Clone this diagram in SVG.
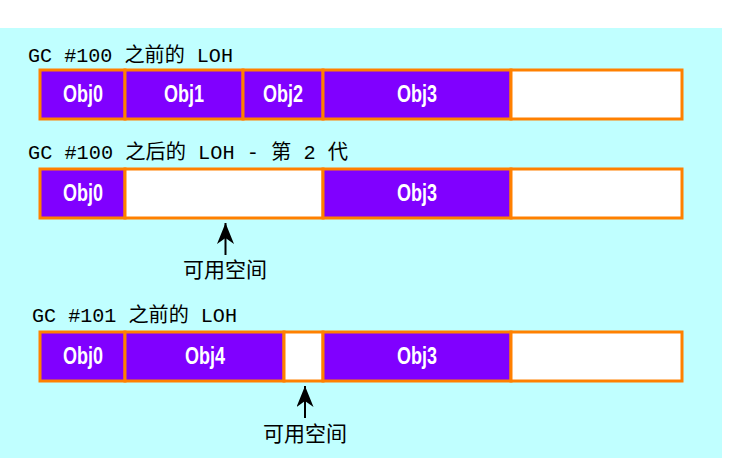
<svg xmlns="http://www.w3.org/2000/svg" width="750" height="458" viewBox="0 0 750 458">
<style>
.title{font-family:"Liberation Mono","Noto Sans CJK SC",monospace;font-size:20px;fill:#000}
.obj{fill:#8000FF;stroke:#FF8000;stroke-width:3}
.free{fill:#FFFFFF;stroke:#FF8000;stroke-width:3}
.lbl{font-family:"Liberation Sans",sans-serif;font-weight:bold;font-size:23px;fill:#FFFFFF;text-anchor:middle}
.note{font-family:"Noto Sans CJK SC",sans-serif;font-size:21px;fill:#000;text-anchor:middle}
.arrow{stroke:#000;stroke-width:2;fill:none}
</style>
<defs>
<marker id="ah" markerWidth="21" markerHeight="17" viewBox="0 0 21 17" refX="21" refY="8.5" orient="auto" markerUnits="userSpaceOnUse">
<polygon points="21,8.5 0,0 6,8.5 0,17" fill="#000"/>
</marker>
</defs>
<rect x="0" y="0" width="750" height="458" fill="#FFFFFF"/>
<rect x="0" y="28" width="722" height="430" fill="#C0FFFF"/>

<g id="title1"><text class="title" x="28" y="61.5" textLength="205" lengthAdjust="spacingAndGlyphs">GC #100 之前的 LOH</text></g>
<g id="bar1">
<g id="b1-obj0"><rect class="obj" x="40" y="70" width="85" height="49"/><text class="lbl" x="83" y="102" textLength="40" lengthAdjust="spacingAndGlyphs">Obj0</text></g>
<g id="b1-obj1"><rect class="obj" x="125" y="70" width="118" height="49"/><text class="lbl" x="184" y="102" textLength="40" lengthAdjust="spacingAndGlyphs">Obj1</text></g>
<g id="b1-obj2"><rect class="obj" x="243" y="70" width="80" height="49"/><text class="lbl" x="283" y="102" textLength="40" lengthAdjust="spacingAndGlyphs">Obj2</text></g>
<g id="b1-obj3"><rect class="obj" x="323" y="70" width="188" height="49"/><text class="lbl" x="417" y="102" textLength="40" lengthAdjust="spacingAndGlyphs">Obj3</text></g>
<g id="b1-free"><rect class="free" x="511" y="70" width="171" height="49"/></g>
</g>

<g id="title2"><text class="title" x="28" y="158.5" textLength="320" lengthAdjust="spacingAndGlyphs">GC #100 之后的 LOH - 第 2 代</text></g>
<g id="bar2">
<g id="b2-obj0"><rect class="obj" x="40" y="169" width="85" height="49"/><text class="lbl" x="83" y="201" textLength="40" lengthAdjust="spacingAndGlyphs">Obj0</text></g>
<g id="b2-free1"><rect class="free" x="125" y="169" width="198" height="49"/></g>
<g id="b2-obj3"><rect class="obj" x="323" y="169" width="188" height="49"/><text class="lbl" x="417" y="201" textLength="40" lengthAdjust="spacingAndGlyphs">Obj3</text></g>
<g id="b2-free2"><rect class="free" x="511" y="169" width="171" height="49"/></g>
</g>
<g id="note1"><text class="note" x="225" y="277">可用空间</text></g>

<g id="title3"><text class="title" x="32" y="322" textLength="205" lengthAdjust="spacingAndGlyphs">GC #101 之前的 LOH</text></g>
<g id="bar3">
<g id="b3-obj0"><rect class="obj" x="40" y="332" width="85" height="49"/><text class="lbl" x="83" y="364" textLength="40" lengthAdjust="spacingAndGlyphs">Obj0</text></g>
<g id="b3-obj4"><rect class="obj" x="125" y="332" width="159" height="49"/><text class="lbl" x="205" y="364" textLength="40" lengthAdjust="spacingAndGlyphs">Obj4</text></g>
<g id="b3-free1"><rect class="free" x="284" y="332" width="39" height="49"/></g>
<g id="b3-obj3"><rect class="obj" x="323" y="332" width="188" height="49"/><text class="lbl" x="417" y="364" textLength="40" lengthAdjust="spacingAndGlyphs">Obj3</text></g>
<g id="b3-free2"><rect class="free" x="511" y="332" width="171" height="49"/></g>
</g>
<g id="note2"><text class="note" x="305" y="441">可用空间</text></g>

<g id="connectors">
<line class="arrow" x1="225.5" y1="255" x2="225.5" y2="223" marker-end="url(#ah)"/>
<line class="arrow" x1="305" y1="418" x2="305" y2="386" marker-end="url(#ah)"/>
</g>
</svg>
